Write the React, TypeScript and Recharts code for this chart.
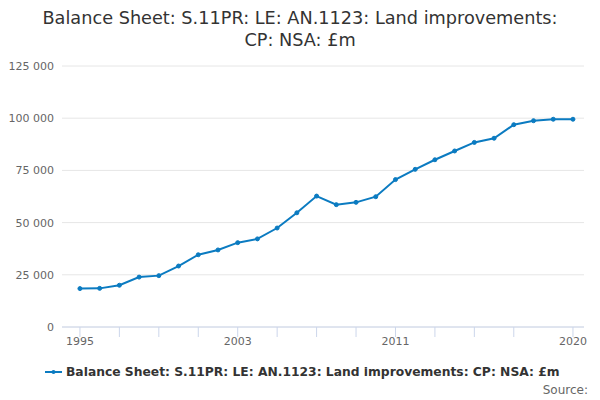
import React from 'react';
import { LineChart, Line, XAxis, YAxis, CartesianGrid } from 'recharts';

const years = [1995, 1996, 1997, 1998, 1999, 2000, 2001, 2002, 2003, 2004, 2005, 2006, 2007, 2008, 2009, 2010, 2011, 2012, 2013, 2014, 2015, 2016, 2017, 2018, 2019, 2020];
const values = [18400, 18500, 20000, 23900, 24600, 29200, 34600, 36900, 40400, 42200, 47400, 54700, 62700, 58600, 59700, 62400, 70600, 75500, 80100, 84300, 88400, 90400, 96900, 98800, 99500, 99500];
const xTicks = [1995, 1997, 1999, 2001, 2003, 2005, 2007, 2009, 2011, 2013, 2015, 2017, 2020];
const xLabels = [1995, 2003, 2011, 2020];
const yTicks = [0, 25000, 50000, 75000, 100000, 125000];

const seriesName = 'Balance Sheet: S.11PR: LE: AN.1123: Land improvements: CP: NSA: £m';
const titleLines = ['Balance Sheet: S.11PR: LE: AN.1123: Land improvements:', 'CP: NSA: £m'];

const data = years.map((y, i) => ({ year: y, value: values[i] }));

const font = '"DejaVu Sans", sans-serif';
const blue = '#0b7bc1';

const fmtY = (v: number) => String(v).replace(/\B(?=(\d{3})+(?!\d))/g, ' ');
const fmtX = (v: number) => (xLabels.includes(v) ? String(v) : '');

export default function App() {
  return (
    <div style={{ position: 'absolute', left: 0, top: 0, width: 600, height: 400, fontFamily: font, background: '#fff' }}>
      <div style={{ position: 'absolute', left: 0, top: 7, width: 600, textAlign: 'center', fontSize: 17.7, lineHeight: '22px', color: '#333' }}>
        {titleLines.map((t, i) => (
          <div key={i}>{t}</div>
        ))}
      </div>
      <LineChart width={600} height={400} data={data} margin={{ top: 66, right: 16, bottom: 53, left: 0 }}>
        <CartesianGrid vertical={false} stroke="#e6e6e6" />
        <XAxis
          dataKey="year"
          type="number"
          domain={[1994.09, 2020.56]}
          ticks={xTicks}
          tickFormatter={fmtX}
          interval={0}
          height={20}
          tickSize={10}
          tickMargin={0}
          stroke="#ccd6eb"
          tick={{ fill: '#666', fontSize: 11, fontFamily: font }}
          allowDataOverflow
        />
        <YAxis
          domain={[0, 125000]}
          ticks={yTicks}
          tickFormatter={fmtY}
          width={62}
          axisLine={false}
          tickLine={false}
          tick={{ fill: '#666', fontSize: 11, fontFamily: font }}
          interval={0}
        />
        <Line
          type="linear"
          dataKey="value"
          stroke={blue}
          strokeWidth={2}
          dot={{ r: 2, fill: blue, stroke: blue, strokeWidth: 1 }}
          isAnimationActive={false}
        />
      </LineChart>
      <div style={{ position: 'absolute', left: 45, top: 365, display: 'flex', alignItems: 'center', fontSize: 12.3, fontWeight: 'bold', color: '#333' }}>
        <svg width={17} height={10} style={{ marginRight: 4 }}>
          <line x1={0} y1={5} x2={17} y2={5} stroke={blue} strokeWidth={2} />
          <circle cx={8.5} cy={5} r={2} fill={blue} />
        </svg>
        <span>{seriesName}</span>
      </div>
      <div style={{ position: 'absolute', right: 12, top: 383, fontSize: 12, color: '#666' }}>Source:</div>
    </div>
  );
}
